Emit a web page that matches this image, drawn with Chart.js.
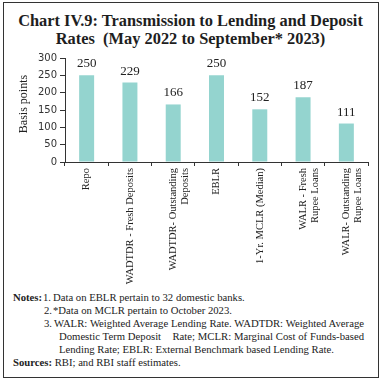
<!DOCTYPE html>
<html>
<head>
<meta charset="utf-8">
<script src="https://cdn.jsdelivr.net/npm/chart.js@4.4.1/dist/chart.umd.min.js"></script>
<style>
  html, body { margin: 0; padding: 0; background: #fff; }
  body { width: 381px; height: 382px; position: relative; overflow: hidden; font-family: "Liberation Serif", serif; color: #222; }
  #frame { position: absolute; left: 3px; top: 2px; width: 374px; height: 374px; border: 1px solid #333; }
  #title { position: absolute; left: 0; top: 12px; width: 381px; text-align: center; font-weight: bold; font-size: 16.4px; line-height: 18px; color: #1e1e1e; }
  #notes { position: absolute; left: 13px; top: 291px; width: 352px; font-size: 10.7px; line-height: 13px; color: #222; }
  #notes .row { position: relative; white-space: nowrap; height: 13px; }
  #notes .n { position: absolute; left: 30px; }
  #notes .t { position: absolute; left: 40px; }
  #notes .j { position: absolute; left: 46px; width: 305px; text-align: justify; text-align-last: justify; white-space: normal; }
  canvas { position: absolute; left: 0; top: 0; }
</style>
</head>
<body>
<div id="frame"></div>
<div id="title">Chart IV.9: Transmission to Lending and Deposit<br>Rates&nbsp; (May 2022 to September* 2023)</div>
<div id="notes">
  <div class="row"><b>Notes:</b><span class="n">1.</span><span class="t">Data on EBLR pertain to 32 domestic banks.</span></div>
  <div class="row"><span class="n" style="left:31px">2.</span><span class="t">*Data on MCLR pertain to October 2023.</span></div>
  <div class="row"><span class="n" style="left:31px">3.</span><span class="j" style="left:41px;width:310px">WALR: Weighted Average Lending Rate. WADTDR: Weighted Average</span></div>
  <div class="row"><span class="j">Domestic Term Deposit &nbsp;&nbsp; Rate; MCLR: Marginal Cost of Funds-based</span></div>
  <div class="row"><span class="t" style="left:46px">Lending Rate; EBLR: External Benchmark based Lending Rate.</span></div>
  <div class="row"><b>Sources:</b> RBI; and RBI staff estimates.</div>
</div>
<canvas id="c" width="381" height="382"></canvas>
<script>
const categories = [
  "Repo",
  "WADTDR - Fresh Deposits",
  ["WADTDR- Outstanding", "Deposits"],
  "EBLR",
  "1-Yr. MCLR (Median)",
  ["WALR - Fresh", "Rupee Loans"],
  ["WALR- Outstanding", "Rupee Loans"]
];
const values = [250, 229, 166, 250, 152, 187, 111];
const yTicks = [0, 50, 100, 150, 200, 250, 300];
const yTitle = "Basis points";

const extras = {
  id: 'extras',
  afterDraw(chart) {
    const ctx = chart.ctx;
    const meta = chart.getDatasetMeta(0);
    ctx.save();
    ctx.font = '13px "Liberation Serif", serif';
    ctx.fillStyle = '#222';
    ctx.textAlign = 'center';
    ctx.textBaseline = 'alphabetic';
    meta.data.forEach((bar, i) => {
      ctx.fillText(String(values[i]), bar.x, bar.y - 8);
    });
    ctx.restore();
    const y = chart.scales.y;
    ctx.save();
    ctx.font = '12px "Liberation Serif", serif';
    ctx.fillStyle = '#222';
    ctx.textAlign = 'center';
    ctx.textBaseline = 'middle';
    ctx.translate(y.left + 24, (y.top + y.bottom) / 2 - 6);
    ctx.rotate(-Math.PI / 2);
    ctx.fillText(yTitle, 0, 0);
    ctx.restore();
  }
};

new Chart(document.getElementById('c'), {
  type: 'bar',
  data: {
    labels: categories,
    datasets: [{
      data: values,
      backgroundColor: '#94d4cf',
      borderWidth: 0,
      categoryPercentage: 1,
      barPercentage: 0.346
    }]
  },
  options: {
    responsive: false,
    animation: false,
    devicePixelRatio: 1,
    layout: { padding: { top: 58, right: 13, left: 0, bottom: 0 } },
    plugins: { legend: { display: false }, tooltip: { enabled: false } },
    scales: {
      x: {
        grid: { display: true, drawOnChartArea: false, drawTicks: true, tickLength: 4, color: '#333', offset: true },
        border: { display: true, color: '#333', width: 1 },
        ticks: {
          autoSkip: false, maxRotation: 90, minRotation: 90, padding: 2,
          color: '#222',
          font: { family: '"Liberation Serif", serif', size: 10.5, lineHeight: 1.15 }
        },
        afterFit(s) { s.height = 220; }
      },
      y: {
        min: 0, max: 300,
        afterBuildTicks(s) { s.ticks = yTicks.map(v => ({ value: v })); },
        grid: { display: true, drawOnChartArea: false, drawTicks: true, tickLength: 5, color: '#333' },
        border: { display: true, color: '#333', width: 1 },
        ticks: {
          padding: 3, color: '#333',
          font: { family: '"DejaVu Sans", sans-serif', size: 10 }
        },
        afterFit(s) { s.width = 65; }
      }
    }
  },
  plugins: [extras]
});
</script>
</body>
</html>
